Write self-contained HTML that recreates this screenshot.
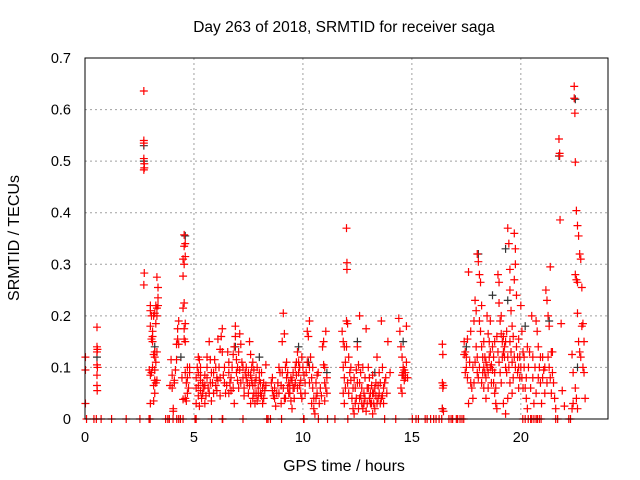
<!DOCTYPE html>
<html><head><meta charset="utf-8"><style>
html,body{margin:0;padding:0;background:#fff}
svg{display:block}
text{font-family:"Liberation Sans",Arial,sans-serif;fill:#000}
</style></head><body>
<svg id="chart" width="640" height="480" xmlns="http://www.w3.org/2000/svg">
<text x="344" y="32" font-size="15.5" text-anchor="middle">Day 263 of 2018, SRMTID for receiver saga</text>
<text x="344" y="471" font-size="16" text-anchor="middle">GPS time / hours</text>
<text transform="translate(19,238) rotate(-90)" font-size="16" text-anchor="middle">SRMTID / TECUs</text>
<g id="grid"></g>
<g id="ticks"></g>
<g id="marks"></g>
<rect x="85" y="58" width="523" height="361" fill="none" stroke="#000" stroke-width="1"/>
</svg>
<script>
const xTicks=[0,5,10,15,20];
const yTicks=[0,0.1,0.2,0.3,0.4,0.5,0.6,0.7];
const yTickLabels=["0","0.1","0.2","0.3","0.4","0.5","0.6","0.7"];
const zeroHours=[0.07,0.41,0.52,0.74,1.22,1.89,2.52,2.94,2.99,3.7,3.87,4.04,4.21,4.38,5.05,5.81,6.32,7.25,8.34,8.51,9.02,10.03,10.71,11.13,11.47,12.06,13.75,14.26,15.02,15.19,15.61,15.86,16.11,16.37,16.7,16.87,17.04,17.21,17.38,20.09,20.34,20.6,20.76,20.93,21.69,22.28,4.5,5.1,6.3,8.4,10.05,20.2,20.45,20.7,3.8,4.3,15.3,15.7,16.0,16.25,16.8,17.1,17.3,20.5,20.85,21.6,22.2];
const redPoints=[
[0.02,0.12],[0.02,0.095],[0.02,0.03],[0.55,0.178],[0.55,0.14],[0.55,0.13],[0.57,0.135],[0.55,0.105],[0.57,0.1],[0.55,0.085],[0.55,0.065],[0.56,0.055],
[2.7,0.636],[2.7,0.54],[2.7,0.535],[2.7,0.505],[2.72,0.495],[2.72,0.487],[2.7,0.483],[2.72,0.283],[2.7,0.26],
[3.0,0.22],[3.0,0.21],[3.05,0.2],[3.0,0.18],[3.05,0.155],[3.1,0.15],[3.1,0.16],[3.15,0.2],[3.2,0.205],[3.25,0.22],[3.3,0.275],[3.35,0.255],[3.35,0.235],[3.3,0.215],[3.25,0.185],[3.2,0.13],[3.15,0.125],[3.2,0.12],[3.25,0.11],[3.3,0.13],[3.2,0.075],[3.25,0.07],[3.3,0.075],[3.2,0.05],[3.15,0.035],[3.0,0.03],[3.05,0.09],[2.95,0.095],[3.0,0.085],[3.1,0.1],[3.2,0.095],[3.15,0.065],[3.3,0.2],[3.35,0.22],[3.1,0.17],
[3.95,0.115],[4.0,0.085],[3.9,0.065],[4.0,0.06],[4.1,0.07],[4.1,0.075],[4.2,0.115],[4.15,0.095],[4.2,0.145],[4.25,0.155],[4.3,0.145],[4.25,0.175],[4.3,0.19],[4.05,0.02],[4.05,0.015],
[4.55,0.357],[4.6,0.34],[4.55,0.335],[4.5,0.31],[4.6,0.315],[4.55,0.3],[4.5,0.277],[4.55,0.225],[4.5,0.215],[4.6,0.185],[4.55,0.175],[4.6,0.15],[4.55,0.155],[4.7,0.1],[4.6,0.09],[4.7,0.08],[4.65,0.07],[4.75,0.06],[4.7,0.05],[4.6,0.04],[4.65,0.035],[4.8,0.1],[4.8,0.09],[4.45,0.08],[4.5,0.038],
[5.2,0.12],[5.25,0.115],[5.3,0.1],[5.2,0.09],[5.1,0.08],[5.3,0.075],[5.4,0.07],[5.2,0.065],[5.1,0.06],[5.3,0.055],[5.4,0.05],[5.2,0.045],[5.35,0.04],[5.1,0.03],[5.25,0.025],[5.5,0.085],[5.5,0.065],[5.55,0.045],[5.6,0.1],[5.6,0.08],[5.65,0.06],[5.7,0.05],[5.75,0.115],[5.7,0.15],[5.8,0.035],[5.85,0.07],[5.9,0.09],[5.95,0.115],[6.0,0.1],[6.05,0.08],[6.1,0.075],[6.1,0.155],[6.2,0.135],[6.25,0.16],[6.3,0.175],[6.3,0.13],[6.35,0.085],[6.4,0.07],[6.45,0.05],[6.2,0.045],[6.05,0.055],
[6.6,0.11],[6.6,0.09],[6.65,0.07],[6.7,0.055],[6.75,0.1],[6.8,0.125],[6.85,0.14],[6.9,0.18],[6.9,0.16],[6.95,0.115],[7.0,0.1],[7.0,0.075],[7.05,0.06],[7.1,0.095],[7.1,0.165],[7.15,0.145],[7.2,0.11],[7.25,0.08],[7.3,0.06],[7.35,0.09],[7.4,0.1],[7.45,0.07],[7.5,0.05],[7.55,0.15],[7.6,0.125],[7.6,0.085],[7.65,0.075],[7.7,0.065],[7.75,0.095],[7.8,0.07],[7.85,0.05],[7.9,0.035],[7.95,0.06],[8.0,0.075],[8.0,0.09],[8.05,0.05],[8.1,0.045],[8.15,0.03],[8.2,0.07],[8.25,0.055],[8.3,0.105],[7.7,0.04],[7.8,0.03],[7.6,0.03],[6.85,0.03],[6.6,0.05],
[8.55,0.07],[8.6,0.055],[8.65,0.045],[8.7,0.06],[8.75,0.025],[8.8,0.05],[8.9,0.1],[8.95,0.09],[9.0,0.065],[9.05,0.15],[9.1,0.205],[9.15,0.165],[9.2,0.1],[9.25,0.08],[9.3,0.06],[9.35,0.07],[9.4,0.05],[9.45,0.035],[9.5,0.02],[9.5,0.075],[9.55,0.09],[9.6,0.06],[9.65,0.1],[9.7,0.11],[9.75,0.13],[9.8,0.09],[9.85,0.065],[9.9,0.05],[9.95,0.04],[9.0,0.03],[9.2,0.04],[9.4,0.065],
[10.2,0.17],[10.25,0.16],[10.3,0.19],[10.35,0.12],[10.3,0.1],[10.4,0.08],[10.45,0.06],[10.5,0.04],[10.5,0.02],[10.55,0.01],[10.6,0.07],[10.65,0.05],[10.7,0.09],[10.75,0.03],[10.2,0.11],[10.15,0.09],[10.1,0.07],[10.9,0.14],[10.95,0.105],[11.0,0.1],[11.05,0.06],[11.1,0.05],[11.0,0.035],[11.05,0.17],[10.95,0.15],
[11.8,0.17],[11.85,0.15],[11.9,0.14],[11.95,0.11],[12.0,0.37],[12.02,0.303],[12.02,0.29],[12.0,0.19],[12.05,0.185],[12.1,0.12],[12.15,0.09],[12.2,0.075],[11.85,0.05],[11.9,0.03],[11.95,0.06],[12.25,0.04],[12.3,0.02],[12.35,0.01],[12.4,0.06],[12.45,0.095],[12.5,0.14],[12.55,0.105],[12.6,0.2],[12.6,0.07],[12.65,0.045],[12.7,0.03],[12.75,0.02],[12.8,0.05],[12.85,0.08],[12.9,0.175],[12.95,0.06],[13.0,0.1],[13.05,0.04],[13.1,0.03],[13.15,0.065],[13.2,0.085],[13.25,0.05],[13.3,0.02],[13.35,0.07],[13.4,0.12],[13.45,0.04],[13.5,0.09],[13.55,0.03],[13.6,0.19],[13.65,0.045],[13.7,0.06],[13.8,0.08],[13.9,0.15],[14.0,0.09],[13.2,0.01],[12.9,0.015],[12.4,0.03],
[14.4,0.195],[14.45,0.17],[14.5,0.14],[14.55,0.12],[14.6,0.1],[14.6,0.085],[14.65,0.075],[14.7,0.09],[14.75,0.18],[14.75,0.11],[14.5,0.06],[14.55,0.05],[14.8,0.08],
[16.4,0.145],[16.42,0.125],[16.4,0.07],[16.45,0.065],[16.42,0.06],[16.4,0.02],[16.45,0.015],
[17.4,0.15],[17.45,0.13],[17.4,0.125],[17.5,0.1],[17.45,0.09],[17.55,0.155],[17.6,0.285],[17.7,0.07],[17.75,0.06],[17.8,0.04],[17.6,0.03],[17.85,0.19],[17.9,0.23],[17.95,0.21],[18.0,0.32],[18.05,0.305],[18.1,0.28],[18.15,0.265],[18.1,0.19],[18.15,0.17],[18.2,0.14],[18.25,0.12],[18.3,0.1],[18.35,0.09],[18.4,0.08],[18.3,0.06],[18.4,0.04],[18.5,0.165],[18.55,0.15],[18.6,0.13],[18.65,0.105],[18.7,0.095],[18.75,0.07],[18.8,0.05],[18.85,0.03],[18.9,0.02],[18.95,0.28],[19.0,0.265],[19.0,0.225],[19.05,0.19],[19.1,0.165],[19.15,0.15],[19.2,0.13],[19.25,0.12],[19.3,0.1],[19.35,0.09],[19.4,0.37],[19.45,0.34],[19.5,0.29],[19.5,0.25],[19.55,0.21],[19.6,0.18],[19.65,0.16],[19.7,0.36],[19.75,0.33],[19.75,0.3],[19.7,0.27],[19.8,0.24],[19.8,0.14],[19.85,0.12],[19.9,0.1],[19.95,0.08],[19.5,0.07],[19.6,0.05],[19.4,0.04],[19.3,0.01],[19.2,0.03],[20.0,0.22],[20.05,0.17],[20.1,0.13],[20.15,0.1],[20.2,0.06],[20.25,0.04],[20.3,0.02],[20.4,0.13],[20.5,0.2],[20.55,0.08],[20.6,0.03],[20.7,0.19],[20.75,0.17],[20.8,0.14],[20.85,0.1],[20.9,0.07],[20.95,0.03],[21.0,0.12],[21.05,0.095],[21.1,0.05],[21.15,0.25],[21.2,0.23],[21.25,0.2],[21.3,0.18],[21.35,0.295],[21.4,0.13],[21.45,0.09],[21.5,0.07],[21.55,0.04],[21.6,0.02],
[18.2,0.22],[18.6,0.19],[19.1,0.2],[18.8,0.15],[17.9,0.11],[18.0,0.09],[18.5,0.06],[19.9,0.155],[20.3,0.14],[17.7,0.17],[18.45,0.2],
[21.75,0.543],[21.78,0.515],[21.78,0.51],[21.8,0.386],[21.85,0.185],[21.9,0.055],[22.0,0.025],
[22.35,0.125],[22.4,0.09],[22.45,0.645],[22.45,0.622],[22.48,0.593],[22.5,0.498],[22.55,0.404],[22.6,0.375],[22.65,0.355],[22.5,0.28],[22.55,0.27],[22.6,0.265],[22.7,0.32],[22.75,0.31],[22.8,0.255],[22.6,0.205],[22.65,0.15],[22.7,0.13],[22.75,0.12],[22.8,0.18],[22.85,0.185],[22.9,0.15],[22.85,0.1],[22.9,0.09],[22.95,0.04],[22.5,0.06],[22.55,0.04],[22.6,0.02],[22.4,0.03],[22.35,0.02]
];
const redPointsDense=[
[5.15,0.1],[5.3,0.085],[5.45,0.06],[5.5,0.03],[5.6,0.12],[5.75,0.07],[5.8,0.09],[5.9,0.05],[6.0,0.065],[6.15,0.1],[6.2,0.08],[6.4,0.1],[6.5,0.065],[6.55,0.13],
[6.7,0.08],[6.8,0.06],[6.95,0.09],[7.05,0.13],[7.15,0.07],[7.25,0.1],[7.3,0.045],[7.4,0.08],[7.5,0.09],[7.55,0.065],[7.65,0.1],[7.7,0.11],[7.75,0.05],[7.85,0.08],[7.9,0.1],[7.95,0.045],[8.05,0.07],[8.1,0.09],[8.15,0.06],[8.2,0.04],[8.3,0.065],
[8.6,0.08],[8.7,0.04],[8.85,0.07],[8.9,0.05],[9.05,0.09],[9.1,0.06],[9.15,0.04],[9.25,0.11],[9.3,0.09],[9.35,0.05],[9.45,0.08],[9.55,0.06],[9.6,0.04],[9.65,0.07],[9.7,0.085],[9.75,0.06],[9.8,0.11],[9.85,0.1],[9.9,0.075],[9.95,0.12],[10.0,0.1],[10.05,0.085],[10.1,0.05],
[10.3,0.07],[10.4,0.03],[10.45,0.1],[10.6,0.04],[10.65,0.085],[10.8,0.06],[10.85,0.045],[11.0,0.07],[11.1,0.08],
[11.85,0.1],[11.9,0.08],[12.0,0.14],[12.05,0.07],[12.1,0.05],[12.2,0.1],[12.3,0.06],[12.35,0.08],[12.45,0.04],[12.5,0.07],[12.55,0.02],[12.6,0.04],[12.65,0.09],[12.7,0.06],[12.75,0.1],[12.8,0.03],[12.85,0.04],[12.95,0.03],[13.0,0.06],[13.05,0.08],[13.1,0.05],[13.15,0.03],[13.2,0.05],[13.25,0.03],[13.3,0.06],[13.35,0.045],[13.4,0.03],[13.45,0.065],[13.5,0.05],[13.55,0.07],[13.6,0.04],[13.65,0.1],[13.7,0.03],[13.75,0.07],[13.85,0.05],
[14.6,0.09],[14.65,0.095],[14.7,0.08],[14.55,0.085],
[17.5,0.12],[17.55,0.08],[17.65,0.11],[17.8,0.1],[17.85,0.07],[17.95,0.14],[18.0,0.12],[18.05,0.08],[18.1,0.1],[18.2,0.07],[18.25,0.09],[18.3,0.15],[18.35,0.12],[18.4,0.11],[18.45,0.1],[18.5,0.09],[18.55,0.12],[18.6,0.1],[18.65,0.07],[18.7,0.14],[18.75,0.12],[18.8,0.09],[18.85,0.06],[18.9,0.16],[18.95,0.13],[19.0,0.11],[19.05,0.09],[19.1,0.07],[19.15,0.12],[19.2,0.16],[19.25,0.14],[19.3,0.15],[19.35,0.17],[19.4,0.12],[19.45,0.1],[19.5,0.15],[19.55,0.13],[19.6,0.11],[19.65,0.08],[19.7,0.12],[19.75,0.1],[19.85,0.09],[19.9,0.06],[19.95,0.12],[20.0,0.1],[20.05,0.08],[20.1,0.06],[20.15,0.12],[20.25,0.08],[20.35,0.1],[20.45,0.06],[20.55,0.12],[20.65,0.1],[20.7,0.05],[20.8,0.08],[20.9,0.12],[21.0,0.08],[21.1,0.1],[21.2,0.07],[21.25,0.12],[21.3,0.1],[21.35,0.08],[21.4,0.05],[21.45,0.13]
];
const blackPoints=[[2.7,0.53],[2.7,0.5],[4.6,0.355],[22.5,0.62],[21.75,0.51],[19.3,0.33],[18.05,0.32],[4.4,0.12],[6.9,0.14],[9.8,0.14],[10.25,0.11],[12.5,0.15],[14.6,0.15],[17.5,0.14],[18.7,0.24],[19.4,0.23],[20.2,0.18],[21.3,0.19],[22.6,0.1],[0.55,0.12],[3.2,0.14],[13.3,0.09],[16.4,0.02],[11.1,0.09],[8.0,0.12]];

const X0=85,X1=608,Y0=419,Y1=58;
function sx(h){return X0+(h/24)*(X1-X0);}
function sy(v){return Y0-(v/0.7)*(Y0-Y1);}
const NS="http://www.w3.org/2000/svg";
const grid=document.getElementById('grid'),ticks=document.getElementById('ticks'),marks=document.getElementById('marks');
function mk(tag,attrs,parent){const e=document.createElementNS(NS,tag);for(const k in attrs)e.setAttribute(k,attrs[k]);parent.appendChild(e);return e;}
xTicks.forEach(t=>{
  const x=sx(t);
  if(t>0){const g=mk('line',{x1:x,x2:x,y1:Y1,y2:Y0,stroke:'#a0a0a0','stroke-dasharray':'2,3'},grid);
  
  }
  const tl=mk('text',{x:x,y:Y0+23,'font-size':'14.5','text-anchor':'middle'},ticks);
  tl.textContent=String(t);
  
  
});
yTicks.forEach((t,i)=>{
  const y=sy(t);
  if(t>0&&t<0.7){const g=mk('line',{x1:X0,x2:X1,y1:y,y2:y,stroke:'#a0a0a0','stroke-dasharray':'2,3'},grid);
  
  }
  const tl=mk('text',{x:X0-14,y:y+5,'font-size':'14.5','text-anchor':'end'},ticks);
  tl.textContent=yTickLabels[i];
  
  
});
function plus(h,v,color,name){
  const x=sx(h),y=sy(v);
  const p=mk('path',{d:`M${x-4},${y}H${x+4}M${x},${y-4}V${y+4}`,stroke:color,'stroke-width':'1.2',fill:'none'},marks);
  
  
}
blackPoints.forEach(p=>plus(p[0],p[1],'#333','black-point'));
redPoints.forEach(p=>plus(p[0],p[1],'#ff0000','red-point'));
redPointsDense.forEach(p=>plus(p[0],p[1],'#ff0000','red-point'));
zeroHours.forEach(h=>plus(h,0,'#ff0000','zero-point'));
</script>
</body></html>
